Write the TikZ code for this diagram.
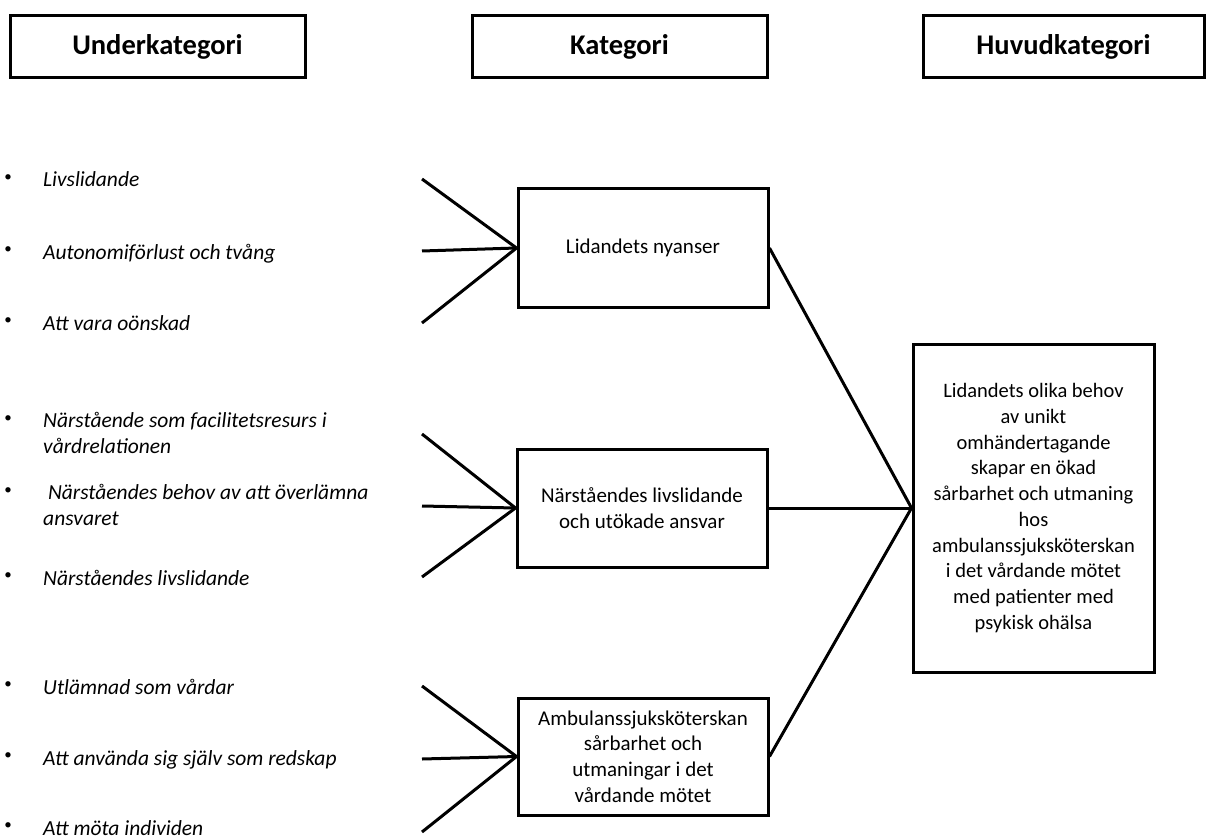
\documentclass[tikz,border=0pt]{standalone}
\usepackage{fontspec}
\setmainfont{Carlito}
\begin{document}
\begin{tikzpicture}[x=1pt,y=-1pt,
  hdr/.style={draw,line width=3pt,inner sep=0pt,minimum width=295pt,minimum height=62pt,font=\fontsize{28.5}{34}\selectfont\bfseries},
  cat/.style={draw,line width=3pt,inner sep=0pt,minimum width=250pt,minimum height=118pt,align=center,font=\fontsize{21}{25.7}\selectfont},
  item/.style={anchor=base west,inner sep=0pt,align=left,font=\fontsize{21.5}{25.7}\selectfont\itshape},
  bul/.style={anchor=center,inner sep=0pt,font=\fontsize{15}{18}\selectfont},
  conn/.style={line width=3pt}]
\useasboundingbox (0,0) rectangle (1207,837);
% headers
\node[hdr] (h1) at (157.5,47) {Underkategori};
\node[hdr] (h2) at (619.5,47) {Kategori};
\node[hdr,minimum width=281pt] (h3) at (1063.5,47) {Huvudkategori};
% category boxes
\node[cat] (c1) at (643,248) {Lidandets nyanser};
\node[cat] (c2) at (642,508) {Närståendes livslidande\\och utökade ansvar};
\node[cat,minimum height=117pt] (c3) at (643,756.5) {Ambulanssjuksköterskan\\sårbarhet och\\utmaningar i det\\vårdande mötet};
\node[cat,minimum width=241pt,minimum height=328pt,font=\fontsize{20.5}{25.7}\selectfont] (m) at (1033.5,508) {Lidandets olika behov\\av unikt\\omhändertagande\\skapar en ökad\\sårbarhet och utmaning\\hos\\ambulanssjuksköterskan\\i det vårdande mötet\\med patienter med\\psykisk ohälsa};
% list items (text at baseline of last line, bullets at first line)
\node[bul] (b1) at (8,178) {•};
\node[item] (t1) at (43,187) {Livslidande};
\node[bul] (b2) at (8,250) {•};
\node[item] (t2) at (43,259) {Autonomiförlust och tvång};
\node[bul] (b3) at (8,321) {•};
\node[item] (t3) at (43,330) {Att vara oönskad};
\node[bul] (b4) at (8,419) {•};
\node[item] (t4) at (43,453) {Närstående som facilitetsresurs i\\vårdrelationen};
\node[bul] (b5) at (8,491) {•};
\node[item] (t5) at (43,525) {\ Närståendes behov av att överlämna\\ansvaret};
\node[bul] (b6) at (8,576) {•};
\node[item] (t6) at (43,585) {Närståendes livslidande};
\node[bul] (b7) at (8,685) {•};
\node[item] (t7) at (43,694) {Utlämnad som vårdar};
\node[bul] (b8) at (8,756) {•};
\node[item] (t8) at (43,765) {Att använda sig själv som redskap};
\node[bul] (b9) at (8,826) {•};
\node[item] (t9) at (43,835) {Att möta individen};
% free ends of connectors
\coordinate (a1) at (422,179);
\coordinate (a2) at (422,251);
\coordinate (a3) at (422,323);
\coordinate (a4) at (422,434);
\coordinate (a5) at (422,506);
\coordinate (a6) at (422,577);
\coordinate (a7) at (422,686);
\coordinate (a8) at (422,759);
\coordinate (a9) at (422,832);
\draw[conn] (a1) -- (c1.west);
\draw[conn] (a2) -- (c1.west);
\draw[conn] (a3) -- (c1.west);
\draw[conn] (a4) -- (c2.west);
\draw[conn] (a5) -- (c2.west);
\draw[conn] (a6) -- (c2.west);
\draw[conn] (a7) -- (c3.west);
\draw[conn] (a8) -- (c3.west);
\draw[conn] (a9) -- (c3.west);
\draw[conn] (c1.east) -- (m.west);
\draw[conn] (c2.east) -- (m.west);
\draw[conn] (c3.east) -- (m.west);
\end{tikzpicture}
\end{document}
